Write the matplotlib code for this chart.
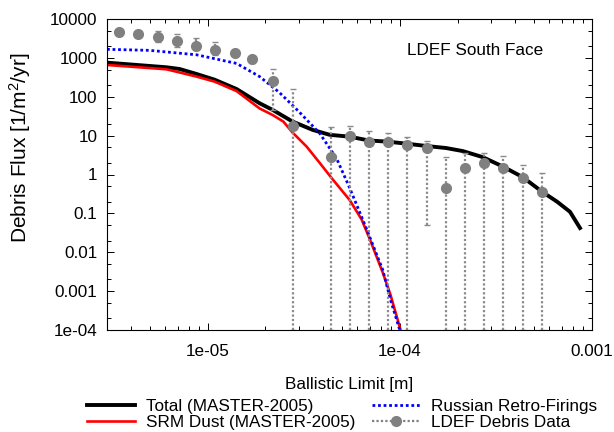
import numpy as np
import matplotlib
matplotlib.use('Agg')
import matplotlib.pyplot as plt
from matplotlib.lines import Line2D
from matplotlib.ticker import LogLocator, NullFormatter

plt.rcParams['font.family'] = ['Liberation Sans', 'DejaVu Sans']
plt.rcParams['mathtext.default'] = 'regular'

# MASTER-2005 total flux
total_x = [3.0e-6, 6.11e-6, 7.15e-6, 8.77e-6, 1.088e-5, 1.416e-5, 1.866e-5, 2.18e-5,
           2.77e-5, 3.53e-5, 4.32e-5, 5.49e-5, 6.90e-5, 8.66e-5, 1.087e-4, 1.38e-4,
           1.74e-4, 2.13e-4, 2.70e-4, 3.44e-4, 4.37e-4, 5.50e-4, 6.58e-4, 7.68e-4, 8.66e-4]
total_y = [754, 573, 518, 385, 275, 158, 68, 46,
           23, 14, 10.5, 9.4, 7.5, 7.0, 6.2, 5.4,
           4.8, 4.0, 2.8, 1.6, 0.85, 0.36, 0.2, 0.11, 0.042]

# SRM dust (MASTER-2005)
srm_x = [3.0e-6, 6.11e-6, 8.77e-6, 1.088e-5, 1.416e-5, 1.866e-5, 2.18e-5, 2.48e-5,
         2.77e-5, 3.28e-5, 3.83e-5, 4.43e-5, 5.49e-5, 6.33e-5, 6.98e-5, 8.16e-5,
         8.95e-5, 1.01e-4]
srm_y = [657, 509, 330, 245, 140, 50, 34, 23,
         12, 5.2, 2.0, 0.8, 0.22, 0.07, 0.022, 0.003,
         8e-4, 1e-4]

# Russian retro-firings
rus_x = [3.0e-6, 5.0e-6, 8.77e-6, 1.416e-5, 1.866e-5, 2.36e-5, 2.98e-5, 3.83e-5,
         4.69e-5, 5.49e-5, 6.65e-5, 8.16e-5, 8.95e-5, 1.0e-4]
rus_y = [1660, 1560, 1200, 720, 330, 130, 42, 11.5,
         2.6, 0.45, 0.045, 0.0035, 6e-4, 1e-4]

# LDEF debris data with error bar limits
ldef_x = [3.45e-6, 4.37e-6, 5.51e-6, 6.92e-6, 8.73e-6, 1.10e-5, 1.39e-5, 1.71e-5,
          2.19e-5, 2.80e-5, 4.41e-5, 5.49e-5, 6.90e-5, 8.69e-5, 1.09e-4, 1.38e-4,
          1.73e-4, 2.18e-4, 2.74e-4, 3.45e-4, 4.35e-4, 5.47e-4]
ldef_y = [4720, 4110, 3390, 2770, 2050, 1590, 1310, 920,
          260, 18, 2.8, 9.8, 7.0, 6.8, 5.9, 4.8,
          0.45, 1.5, 2.0, 1.5, 0.83, 0.35]
ldef_hi = [5600, 5000, 5000, 4100, 3200, 2500, 1600, 1100,
           520, 155, 17, 18, 13.4, 11.5, 9.3, 7.3,
           2.9, 3.5, 3.6, 3.0, 1.78, 1.12]
ldef_lo = [3900, 3400, 2600, 1950, 1600, 1200, 1100, 750,
           45, 1e-4, 1e-4, 1e-4, 1e-4, 1e-4, 1e-4, 0.05,
           1e-4, 1e-4, 1e-4, 1e-4, 1e-4, 1e-4]

y_ticks = [1e4, 1e3, 1e2, 1e1, 1, 0.1, 0.01, 0.001, 1e-4]
y_labels = ['10000', '1000', '100', '10', '1', '0.1', '0.01', '0.001', '1e-04']
x_ticks = [1e-5, 1e-4, 1e-3]
x_labels = ['1e-05', '1e-04', '0.001']

fig = plt.figure(figsize=(6.14, 4.32), dpi=100)
ax = fig.add_axes([107/614, 1 - 330/432, 485/614, 311/432])

gray = '#808080'
ax.plot(total_x, total_y, color='black', lw=2.8, solid_joinstyle='round')
ax.plot(srm_x, srm_y, color='#ff0000', lw=1.9)
ax.plot(rus_x, rus_y, color='#0000ff', lw=2.0, ls=(0, (1, 1)))

ldef_y = np.array(ldef_y)
yerr = [ldef_y - np.array(ldef_lo), np.array(ldef_hi) - ldef_y]
eb = ax.errorbar(ldef_x, ldef_y, yerr=yerr, fmt='o', color=gray, ms=7,
                 ecolor='#8a8a8a', elinewidth=1.6, capsize=2.2, capthick=1.0)
eb[2][0].set_linestyle((0, (1, 1)))

ax.set_xscale('log')
ax.set_yscale('log')
ax.set_xlim(3e-6, 1e-3)
ax.set_ylim(1e-4, 1e4)
ax.set_yticks(y_ticks, y_labels)
ax.set_xticks(x_ticks, x_labels)
ax.xaxis.set_minor_locator(LogLocator(base=10, subs=np.arange(2, 10)))
ax.yaxis.set_minor_locator(LogLocator(base=10, subs=[2, 5], numticks=20))
ax.xaxis.set_minor_formatter(NullFormatter())
ax.yaxis.set_minor_formatter(NullFormatter())
ax.tick_params(which='both', direction='in', top=True, right=True, labelsize=12.3, width=0.7)
ax.tick_params(which='major', length=5, pad=7)
ax.tick_params(axis='x', which='major', pad=10)
ax.tick_params(which='minor', length=3)
for s in ax.spines.values():
    s.set_linewidth(0.8)

ax.set_xlabel('Ballistic Limit [m]', fontsize=12.3, labelpad=13)
ax.set_ylabel('Debris Flux [1/m$^2$/yr]', fontsize=15, va='center')
ax.yaxis.set_label_coords((20 - 107) / 485, (330 - 148) / 311)

ax.text(0.618, 0.900, 'LDEF South Face', transform=ax.transAxes,
        fontsize=12.3, ha='left', va='center')

handles = [Line2D([], [], color='black', lw=2.8),
           Line2D([], [], color='#ff0000', lw=1.9),
           Line2D([], [], color='#0000ff', lw=2.0, ls=(0, (1, 1))),
           Line2D([], [], color=gray, lw=1.6, ls=(0, (1, 1)), marker='o', ms=7)]
labels = ['Total (MASTER-2005)', 'SRM Dust (MASTER-2005)',
          'Russian Retro-Firings', 'LDEF Debris Data']
fig.legend(handles, labels, ncol=2, loc='upper left',
           bbox_to_anchor=(87/614, 1 - 399/432), frameon=False, fontsize=12.3,
           handlelength=2.8, handletextpad=0.65, columnspacing=1.0,
           labelspacing=0.05, borderpad=0, borderaxespad=0)

fig.savefig('out.png', dpi=100)
